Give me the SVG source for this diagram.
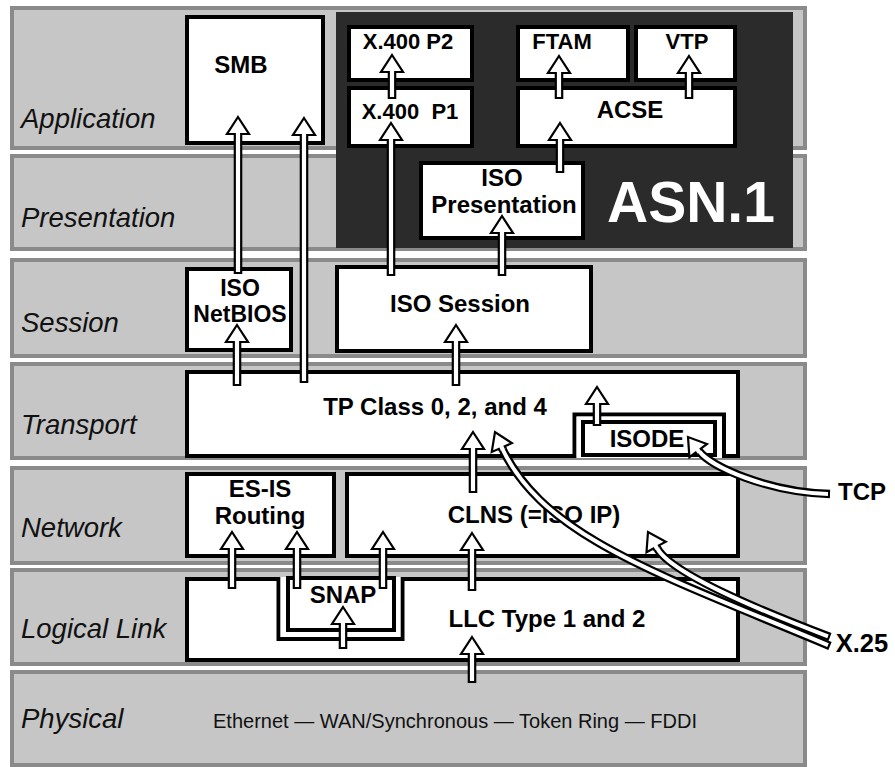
<svg xmlns="http://www.w3.org/2000/svg" xmlns:xlink="http://www.w3.org/1999/xlink" width="895" height="767" viewBox="0 0 895 767">
<style>
.band{fill:#c6c6c6;stroke:#8a8a8a;stroke-width:4}
.box{fill:#fff;stroke:#000;stroke-width:4}
.lbl{font-family:"Liberation Sans",Arial,sans-serif;font-style:italic;font-size:27.5px;fill:#111}
.t{font-family:"Liberation Sans",Arial,sans-serif;font-weight:bold;font-size:24px;text-anchor:middle;fill:#000}
.s22{font-size:22px}
.s23{font-size:23px}
.arr{fill:#fff;stroke:#000;stroke-width:2.2}
.cb{fill:none;stroke:#000;stroke-width:8.5}
.cw{fill:none;stroke:#fff;stroke-width:4}
</style>
<defs>
<path id="head" class="arr" d="M3.2,19 V17 H11 L0,0 L-11,17 H-3.2 V19"/>
</defs>
<rect width="895" height="767" fill="#fff"/>
<g id="layers">
<rect class="band" x="12" y="8" width="793" height="140"/>
<rect class="band" x="12" y="156" width="793" height="93"/>
<rect class="band" x="12" y="260" width="793" height="96"/>
<rect class="band" x="12" y="364" width="793" height="94"/>
<rect class="band" x="12" y="468" width="793" height="95"/>
<rect class="band" x="12" y="570" width="793" height="94"/>
<rect class="band" x="12" y="672" width="793" height="93"/>
<text class="lbl" x="21" y="128">Application</text>
<text class="lbl" x="21" y="227">Presentation</text>
<text class="lbl" x="21" y="332">Session</text>
<text class="lbl" x="21" y="434">Transport</text>
<text class="lbl" x="21" y="537">Network</text>
<text class="lbl" x="21" y="638">Logical Link</text>
<text class="lbl" x="21" y="728">Physical</text>
<text x="213" y="728" font-family="Liberation Sans, Arial, sans-serif" font-size="21" fill="#111" textLength="484" lengthAdjust="spacingAndGlyphs">Ethernet — WAN/Synchronous — Token Ring — FDDI</text>
</g>
<g id="asn1">
<rect x="336" y="12" width="457" height="236" fill="#2b2b2b"/>
<text x="607" y="222" font-family="Liberation Sans, Arial, sans-serif" font-weight="bold" font-size="57" fill="#fff">ASN.1</text>
</g>
<g id="smb"><rect class="box" x="187" y="17" width="136" height="126"/><text class="t" x="241" y="73">SMB</text></g>
<g id="x400p2"><rect class="box" x="349" y="27" width="123" height="53"/><text class="t s22" x="408" y="49">X.400 P2</text></g>
<g id="x400p1"><rect class="box" x="349" y="88" width="123" height="58"/><text class="t s22" x="410" y="119" xml:space="preserve">X.400  P1</text></g>
<g id="ftam"><rect class="box" x="518" y="27" width="110" height="53"/><text class="t s22" x="562" y="49">FTAM</text></g>
<g id="vtp"><rect class="box" x="636" y="27" width="99" height="53"/><text class="t s22" x="687" y="49">VTP</text></g>
<g id="acse"><rect class="box" x="518" y="88" width="217" height="58"/><text class="t" x="630" y="118">ACSE</text></g>
<g id="isopres"><rect class="box" x="421" y="163" width="162" height="75"/><text class="t" x="502" y="186">ISO</text><text class="t" x="504" y="213">Presentation</text></g>
<g id="netbios"><rect class="box" x="187" y="269" width="104" height="81"/><text class="t s23" x="240" y="296">ISO</text><text class="t s23" x="240" y="322">NetBIOS</text></g>
<g id="isosession"><rect class="box" x="337" y="267" width="254" height="84"/><text class="t" x="460" y="312">ISO Session</text></g>
<g id="tp">
<path class="box" d="M187,372 H738 V456 H724 V414.5 H574.5 V456 H187 Z"/>
<rect x="576.5" y="416.5" width="145.5" height="41.5" fill="#fff"/>
<text class="t" x="435" y="415">TP Class 0, 2, and 4</text>
</g>
<g id="isode"><rect class="box" x="583" y="422" width="132" height="33"/><text class="t" x="647" y="447">ISODE</text></g>
<g id="esis"><rect class="box" x="187" y="474" width="147" height="82"/><text class="t" x="260" y="497">ES-IS</text><text class="t" x="260" y="524">Routing</text></g>
<g id="clns"><rect class="box" x="347" y="474" width="391" height="82"/><text class="t" x="534" y="523">CLNS (=ISO IP)</text></g>
<g id="llc">
<path class="box" d="M187,579 H278.5 V639 H402.5 V579 H738 V660 H187 Z"/>
<rect x="280.5" y="577" width="120" height="60" fill="#fff"/>
<text class="t" x="547" y="627">LLC Type 1 and 2</text>
</g>
<g id="snap"><rect class="box" x="288" y="578" width="106" height="52"/><text class="t" x="343" y="603">SNAP</text></g>
<g id="ext">
<text class="t" x="862" y="500">TCP</text>
<text class="t" x="862" y="652" style="font-size:25.5px">X.25</text>
</g>
<g id="connectors">
<path class="arr" d="M238,117 L249,134 H241.2 V273 H234.8 V134 H227 Z"/>
<path class="arr" d="M304,118 L315,135 H307.2 V382 H300.8 V135 H293 Z"/>
<path class="arr" d="M237,325 L248,342 H240.2 V385 H233.8 V342 H226 Z"/>
<path class="arr" d="M391,123 L402,140 H394.2 V275 H387.8 V140 H380 Z"/>
<path class="arr" d="M392,55 L403,72 H395.2 V98 H388.8 V72 H381 Z"/>
<path class="arr" d="M560,123 L571,140 H563.2 V172 H556.8 V140 H549 Z"/>
<path class="arr" d="M559,56 L570,73 H562.2 V98 H555.8 V73 H548 Z"/>
<path class="arr" d="M689,56 L700,73 H692.2 V98 H685.8 V73 H678 Z"/>
<path class="arr" d="M502,216 L513,233 H505.2 V275 H498.8 V233 H491 Z"/>
<path class="arr" d="M456,325 L467,342 H459.2 V385 H452.8 V342 H445 Z"/>
<path class="arr" d="M597,387 L608,404 H600.2 V425 H593.8 V404 H586 Z"/>
<path class="arr" d="M473,432 L484,449 H476.2 V492 H469.8 V449 H462 Z"/>
<path class="arr" d="M472,533 L483,550 H475.2 V590 H468.8 V550 H461 Z"/>
<path class="arr" d="M472,637 L483,654 H475.2 V682 H468.8 V654 H461 Z"/>
<path class="arr" d="M232,532 L243,549 H235.2 V588 H228.8 V549 H221 Z"/>
<path class="arr" d="M297,532 L308,549 H300.2 V588 H293.8 V549 H286 Z"/>
<path class="arr" d="M383,532 L394,549 H386.2 V588 H379.8 V549 H372 Z"/>
<path class="arr" d="M343,607 L354,624 H346.2 V648 H339.8 V624 H332 Z"/>
<g id="x25-tp">
<path class="cb" d="M830,646 C664,576 544,538 502,448"/>
<path class="cw" d="M828,645.2 C664,576 544,538 502,448"/>
<use xlink:href="#head" href="#head" transform="translate(495,432) rotate(-23.6)"/>
</g>
<g id="x25-clns">
<path class="cb" d="M830,637 C764,612 671,574 657,548"/>
<path class="cw" d="M828,636.3 C764,612 671,574 657,548"/>
<use xlink:href="#head" href="#head" transform="translate(648,532) rotate(-28.6)"/>
</g>
<g id="tcp-isode">
<path class="cb" d="M830,494 C768,492 711,467 699,451"/>
<path class="cw" d="M828,494 C768,492 711,467 699,451"/>
<use xlink:href="#head" href="#head" transform="translate(688,437) rotate(-36.9)"/>
</g>
</g>
</svg>
